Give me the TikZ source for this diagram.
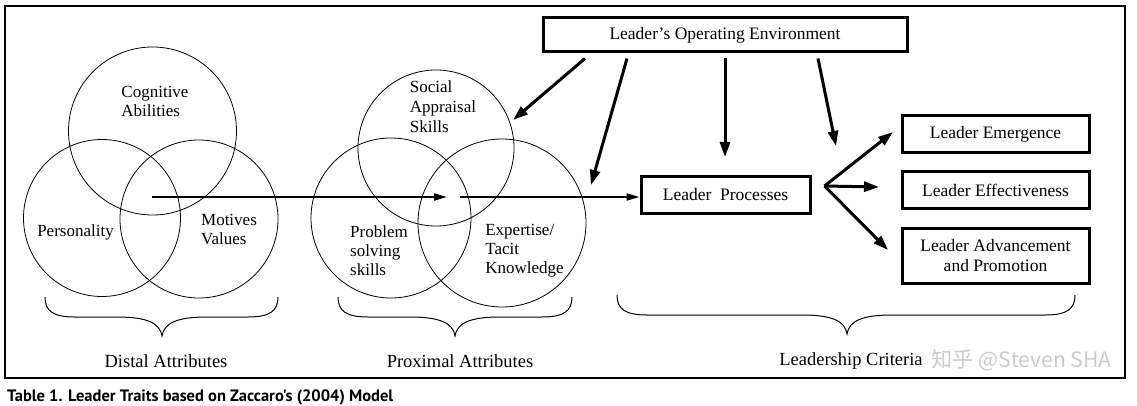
\documentclass[tikz,border=0pt]{standalone}
\usepackage{graphicx}
\usepackage{fontspec}
\setmainfont{Liberation Serif}
\newfontfamily\capfont{PT Sans}
\newfontfamily\cjkfont{Noto Sans CJK SC}
\usetikzlibrary{arrows.meta,calc}
\newcommand{\zbrace}[4]{%
  \draw[brc] (#1,#4) .. controls (#1,#4+14) and (#1+8,#4+20) .. (#1+30,#4+20)
    -- (#3-45,#4+20) .. controls (#3-15,#4+20) and (#3-2,#4+26) .. (#3,#4+39)
    .. controls (#3+2,#4+26) and (#3+15,#4+20) .. (#3+45,#4+20)
    -- (#2-30,#4+20) .. controls (#2-8,#4+20) and (#2,#4+14) .. (#2,#4);}
\begin{document}
\begin{tikzpicture}[x=1pt,y=-1pt,
  ring/.style={draw,circle,line width=0.8pt,inner sep=0pt},
  lbl/.style={font=\fontsize{17}{19}\selectfont,align=left,inner sep=0pt},
  boxn/.style={draw,line width=3pt,inner sep=0pt,align=center,font=\fontsize{17.5}{20.5}\selectfont},
  big/.style={-{Triangle[length=15pt,width=10pt]},line width=3pt},
  thinarrow/.style={-{Triangle[length=13pt,width=7pt]},line width=2pt},
  brc/.style={line width=1pt},
  cat/.style={font=\fontsize{18.5}{20}\selectfont,inner sep=0pt}]
\useasboundingbox (0,0) rectangle (1137,406);
\draw[line width=1.5pt] (5,6) rectangle (1125,378);

% circles
\node[ring,minimum size=168pt] (cog) at (152.5,131) {};
\node[ring,minimum size=157pt] (pers) at (102,218) {};
\node[ring,minimum size=158pt] (mot) at (199,219) {};
\node[ring,minimum size=156pt] (soc) at (436,148) {};
\node[ring,minimum size=160pt] (prob) at (391,218) {};
\node[ring,minimum size=168pt] (exp) at (502,223) {};

\node[lbl] (cogl) at (155,101) {Cognitive\\Abilities};
\node[lbl] (persl) at (75.5,232) {Personality};
\node[lbl] (motl) at (229,230) {Motives\\Values};
\node[lbl,font=\fontsize{17}{20}\selectfont] (socl) at (443,107) {Social\\Appraisal\\Skills};
\node[lbl] (probl) at (379,251) {Problem\\solving\\skills};
\node[lbl] (expl) at (524.5,251) {Expertise/\\Tacit\\Knowledge};

% boxes
\node[boxn,minimum width=364pt,minimum height=34pt] (loe) at (725,35) {Leader’s Operating Environment};
\node[boxn,minimum width=169pt,minimum height=36pt] (lp) at (725.5,195) {Leader~ Processes};
\node[boxn,minimum width=187pt,minimum height=37pt] (em) at (995.5,134.5) {Leader Emergence};
\node[boxn,minimum width=187pt,minimum height=36pt] (ef) at (995.5,190) {Leader Effectiveness};
\node[boxn,minimum width=187pt,minimum height=55pt] (ad) at (995.5,255.5) {Leader Advancement\\and Promotion};

% arrows from environment
\coordinate (t1) at (513,120);
\coordinate (t2) at (591,185);
\coordinate (t3) at (725,157);
\coordinate (t4) at (836,146);
\draw[big] ([xshift=-140pt,yshift=-5pt]loe.south) -- (t1);
\draw[big] ([xshift=-98pt,yshift=-5pt]loe.south) -- (t2);
\draw[big] ([yshift=-5pt]loe.south) -- (t3);
\draw[big] ([xshift=93pt,yshift=-5pt]loe.south) -- (t4);

% main flow
\coordinate (m0) at (152,197);
\coordinate (m1) at (447,197);
\coordinate (m2) at (460,197);
\draw[thinarrow] (m0) -- (m1);
\draw[thinarrow] (m2) -- (m2 -| lp.west);

% fan to criteria
\coordinate (f) at ($(lp.east)+(13,-9)$);
\coordinate (e1) at (893,132);
\coordinate (e2) at (879,187);
\coordinate (e3) at (888,250);
\draw[big] (f) -- (e1);
\draw[big] (f) -- (e2);
\draw[big] (f) -- (e3);

% braces
\zbrace{45}{278}{162}{297}
\zbrace{338}{572}{455}{297}
\zbrace{617}{1075}{847}{295}

\node[cat] (dist) at (166,361) {Distal Attributes};
\node[cat] (prox) at (460,361) {Proximal Attributes};
\node[cat] (crit) at (851,361) {Leadership Criteria};

% watermark
\node[anchor=east,inner sep=0pt,text=gray!55,opacity=0.75] (wm) at (1112,360)
  {\resizebox{180pt}{!}{\cjkfont\fontsize{30}{30}\selectfont 知乎 @Steven SHA}};

% caption
\node[anchor=west,inner sep=0pt] (cap) at (7,397)
  {\resizebox{386pt}{!}{\capfont\bfseries Table 1. Leader Traits based on Zaccaro's (2004) Model}};
\end{tikzpicture}
\end{document}
